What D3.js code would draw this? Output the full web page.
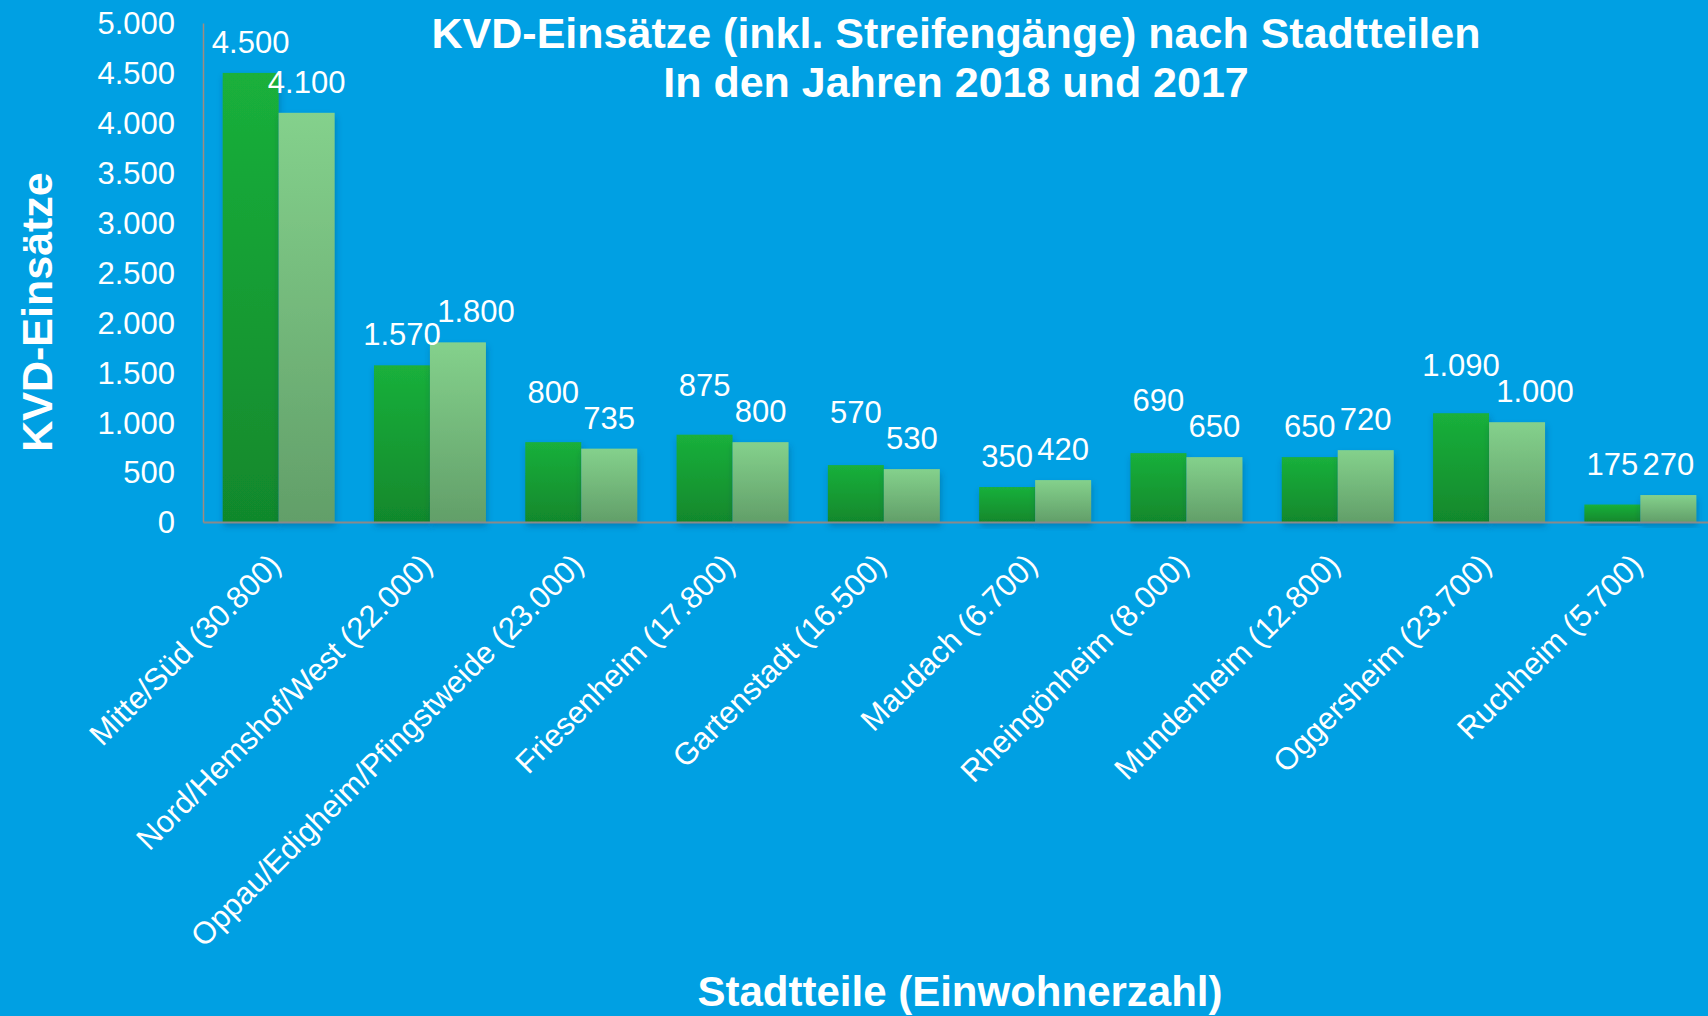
<!DOCTYPE html>
<html>
<head>
<meta charset="utf-8">
<script src="https://cdn.jsdelivr.net/npm/d3@7"></script>
<style>
  html, body { margin: 0; padding: 0; background: #00a0e3; }
  svg { display: block; }
  text { font-family: "Liberation Sans", Arial, sans-serif; fill: #ffffff; }
</style>
</head>
<body>
<svg id="chart" width="1708" height="1016"></svg>
<script>
// ---- Data ----
const categories = [
  "Mitte/Süd (30.800)",
  "Nord/Hemshof/West (22.000)",
  "Oppau/Edigheim/Pfingstweide (23.000)",
  "Friesenheim (17.800)",
  "Gartenstadt (16.500)",
  "Maudach (6.700)",
  "Rheingönheim (8.000)",
  "Mundenheim (12.800)",
  "Oggersheim (23.700)",
  "Ruchheim (5.700)"
];
const seriesNames = ["2018", "2017"];
const values2018 = [4500, 1570, 800, 875, 570, 350, 690, 650, 1090, 175];
const values2017 = [4100, 1800, 735, 800, 530, 420, 650, 720, 1000, 270];
const yTicks = [0, 500, 1000, 1500, 2000, 2500, 3000, 3500, 4000, 4500, 5000];
const titleLines = ["KVD-Einsätze (inkl. Streifengänge) nach Stadtteilen", "In den Jahren 2018 und 2017"];
const yTitle = "KVD-Einsätze";
const xTitle = "Stadtteile (Einwohnerzahl)";

// ---- Setup ----
const W = 1708, H = 1016;
const svg = d3.select("#chart");
const locale = d3.formatLocale({ decimal: ",", thousands: ".", grouping: [3], currency: ["", "€"] });
const fmt = locale.format(",");

const plot = { left: 203, right: 1716, top: 23, bottom: 522 };

const x0 = d3.scaleBand().domain(categories).range([plot.left, plot.right]).paddingInner(0.26).paddingOuter(0.13);
const x1 = d3.scaleBand().domain(seriesNames).range([0, x0.bandwidth()]).padding(0);
const y = d3.scaleLinear().domain([0, 5000]).range([plot.bottom, plot.top]);

// ---- Defs: gradients + shadow ----
const defs = svg.append("defs");
function grad(id, top, bottom) {
  const g = defs.append("linearGradient").attr("id", id).attr("x1", 0).attr("y1", 0).attr("x2", 0).attr("y2", 1);
  g.append("stop").attr("offset", "0%").attr("stop-color", top);
  g.append("stop").attr("offset", "100%").attr("stop-color", bottom);
}
grad("g2018", "#1ab03b", "#11882c");
grad("g2017", "#84d18c", "#629f69");
const f = defs.append("filter").attr("id", "shadow").attr("x", "-20%").attr("y", "-20%").attr("width", "140%").attr("height", "140%");
f.append("feDropShadow").attr("dx", 1).attr("dy", 4).attr("stdDeviation", 3).attr("flood-color", "#003a60").attr("flood-opacity", 0.35);

// background
svg.append("rect").attr("width", W).attr("height", H).attr("fill", "#00a0e3");

// ---- Bars ----
const rows = categories.map((c, i) => ({ cat: c, vals: [values2018[i], values2017[i]] }));
const groups = svg.append("g").selectAll("g").data(rows).join("g")
  .attr("transform", d => `translate(${x0(d.cat)},0)`);
groups.selectAll("rect").data(d => d.vals.map((v, k) => ({ key: seriesNames[k], v })))
  .join("rect")
  .attr("x", d => x1(d.key))
  .attr("y", d => y(d.v))
  .attr("width", x1.bandwidth())
  .attr("height", d => y(0) - y(d.v))
  .attr("fill", d => d.key === "2018" ? "url(#g2018)" : "url(#g2017)")
  .attr("filter", "url(#shadow)");

// ---- Axes ----
const yAxis = d3.axisLeft(y).tickValues(yTicks).tickFormat(fmt).tickSize(0).tickPadding(28);
const gy = svg.append("g").attr("transform", `translate(${plot.left},0)`).call(yAxis);
gy.select(".domain").attr("stroke", "#a08b80").attr("stroke-width", 1.5);
gy.selectAll("text").style("font-size", "31px").attr("fill", "#fff").attr("dy", "0.35em");

const xAxis = d3.axisBottom(x0).tickSize(0).tickFormat(() => "");
const gx = svg.append("g").attr("transform", `translate(0,${plot.bottom})`).call(xAxis);
gx.select(".domain").attr("stroke", "#8a8a8a").attr("stroke-width", 2);

// category labels rotated
svg.append("g").selectAll("text").data(categories).join("text")
  .attr("transform", d => `translate(${x0(d) + x0.bandwidth() / 2 + 4},${plot.bottom + 45}) rotate(-45)`)
  .attr("text-anchor", "end")
  .style("font-size", "31px")
  .text(d => d);

// ---- Data labels (with simple overlap avoidance) ----
const lblG = svg.append("g");
const GAP = 20, MARGIN = 5, HGT = 33, RSHIFT = 18, STACK = 26;
rows.forEach(d => {
  const cx = x0(d.cat);
  const items = d.vals.map((v, k) => {
    const t = lblG.append("text").attr("text-anchor", "middle").style("font-size", "31px").text(fmt(v));
    return { t, v, cx: cx + x1(seriesNames[k]) + x1.bandwidth() / 2, by: y(v) - GAP, w: t.node().getComputedTextLength() };
  });
  const [L, R] = items;
  const overlap = () => (L.w + R.w) / 2 + MARGIN > (R.cx - L.cx) && Math.abs(L.by - R.by) < HGT;
  if (overlap()) {
    let shifted = false;
    if (R.w > 60) { R.cx += RSHIFT; shifted = true; }
    if (overlap()) {
      if (L.by < R.by) L.by = R.by - STACK;
      else if (!shifted && L.by > R.by + 8) L.by = R.by;
    }
  }
  items.forEach(it => it.t.attr("x", it.cx).attr("y", it.by));
});

// ---- Titles ----
svg.append("g").selectAll("text").data(titleLines).join("text")
  .attr("x", 956).attr("y", (d, i) => 48 + i * 48.5)
  .attr("text-anchor", "middle")
  .style("font-size", "43px").style("font-weight", "bold")
  .text(d => d);

svg.append("text")
  .attr("transform", "translate(52,312) rotate(-90)")
  .attr("text-anchor", "middle")
  .style("font-size", "43px").style("font-weight", "bold")
  .text(yTitle);

svg.append("text")
  .attr("x", 960).attr("y", 1006)
  .attr("text-anchor", "middle")
  .style("font-size", "42px").style("font-weight", "bold")
  .text(xTitle);
</script>
</body>
</html>
